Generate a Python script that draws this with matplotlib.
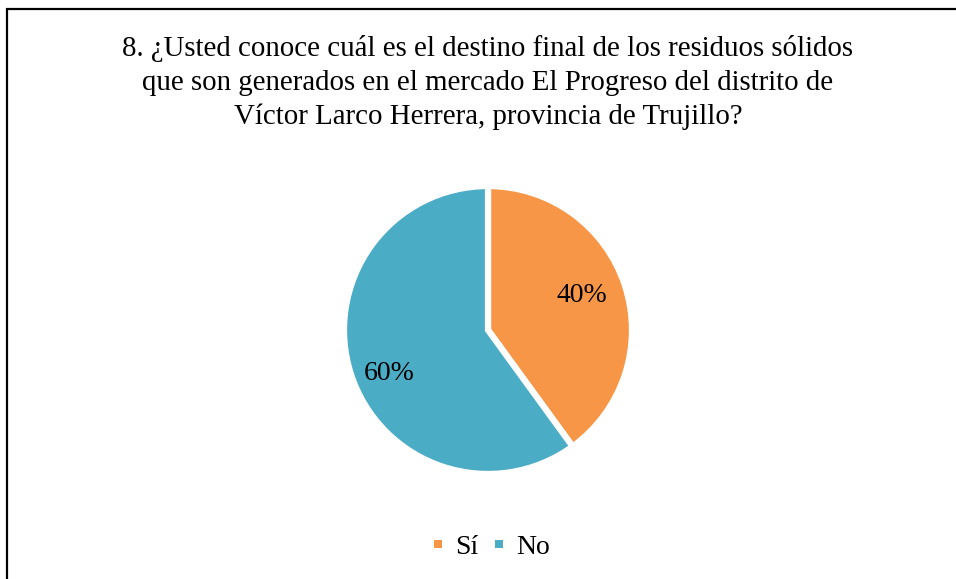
import matplotlib
matplotlib.use("Agg")
import matplotlib.pyplot as plt
from matplotlib.patches import Rectangle
from matplotlib.lines import Line2D
import numpy as np

title_lines = [
    "8. ¿Usted conoce cuál es el destino final de los residuos sólidos",
    "que son generados en el mercado El Progreso del distrito de",
    "Víctor Larco Herrera, provincia de Trujillo?",
]
categories = ["Sí", "No"]
values = [40, 60]
colors = ["#F79646", "#4BACC6"]

plt.rcParams['font.family'] = ['Liberation Serif', 'DejaVu Serif']

W, H = 956, 579
fig = plt.figure(figsize=(W / 100, H / 100), dpi=100)
fig.patch.set_facecolor("white")

# border
fig.patches.append(Rectangle((7 / W, -0.05), 1.1, 1 - 9 / H + 0.05,
                             transform=fig.transFigure, fill=False,
                             edgecolor="black", linewidth=1.6, zorder=0))

# title
ys = [48, 83, 117]
for line, y in zip(title_lines, ys):
    fig.text(488 / W, 1 - y / H, line, ha="center", va="center",
             fontsize=20.8, color="black")

# pie axes: center (488,330), radius ~144 px incl. white edge
cx, cy, r = 488, 330, 144
ax = fig.add_axes([(cx - r) / W, (H - cy - r) / H, 2 * r / W, 2 * r / H])
wedges, texts, autotexts = ax.pie(
    values, colors=colors, startangle=90, counterclock=False,
    autopct=lambda p: f"{p:.0f}%", pctdistance=0.65,
    wedgeprops=dict(edgecolor="white", linewidth=4.5),
    textprops=dict(fontsize=20, color="black"), radius=1.0)
ax.set_xlim(-1, 1)
ax.set_ylim(-1, 1)
ax.set_aspect("equal")
ax.axis("off")
for w in wedges:
    w.set_clip_on(False)

# adjust label placement (best-fit style)
dists = [0.695, 0.75]
angle_off = [2.4, 5.5]
for t, w, d, off in zip(autotexts, wedges, dists, angle_off):
    ang = np.deg2rad((w.theta1 + w.theta2) / 2 + off)
    t.set_position((d * np.cos(ang), d * np.sin(ang)))

handles = [Line2D([], [], linestyle="none", marker="s", markersize=5.2,
                  markerfacecolor=c, markeredgewidth=0) for c in colors]
leg = fig.legend(handles, categories, loc="center",
                 bbox_to_anchor=(492 / W, 1 - 547 / H), ncol=2, frameon=False,
                 fontsize=20, handlelength=0.3,
                 handletextpad=0.45, columnspacing=0.6)

fig.savefig("out.png", dpi=100, facecolor="white")
